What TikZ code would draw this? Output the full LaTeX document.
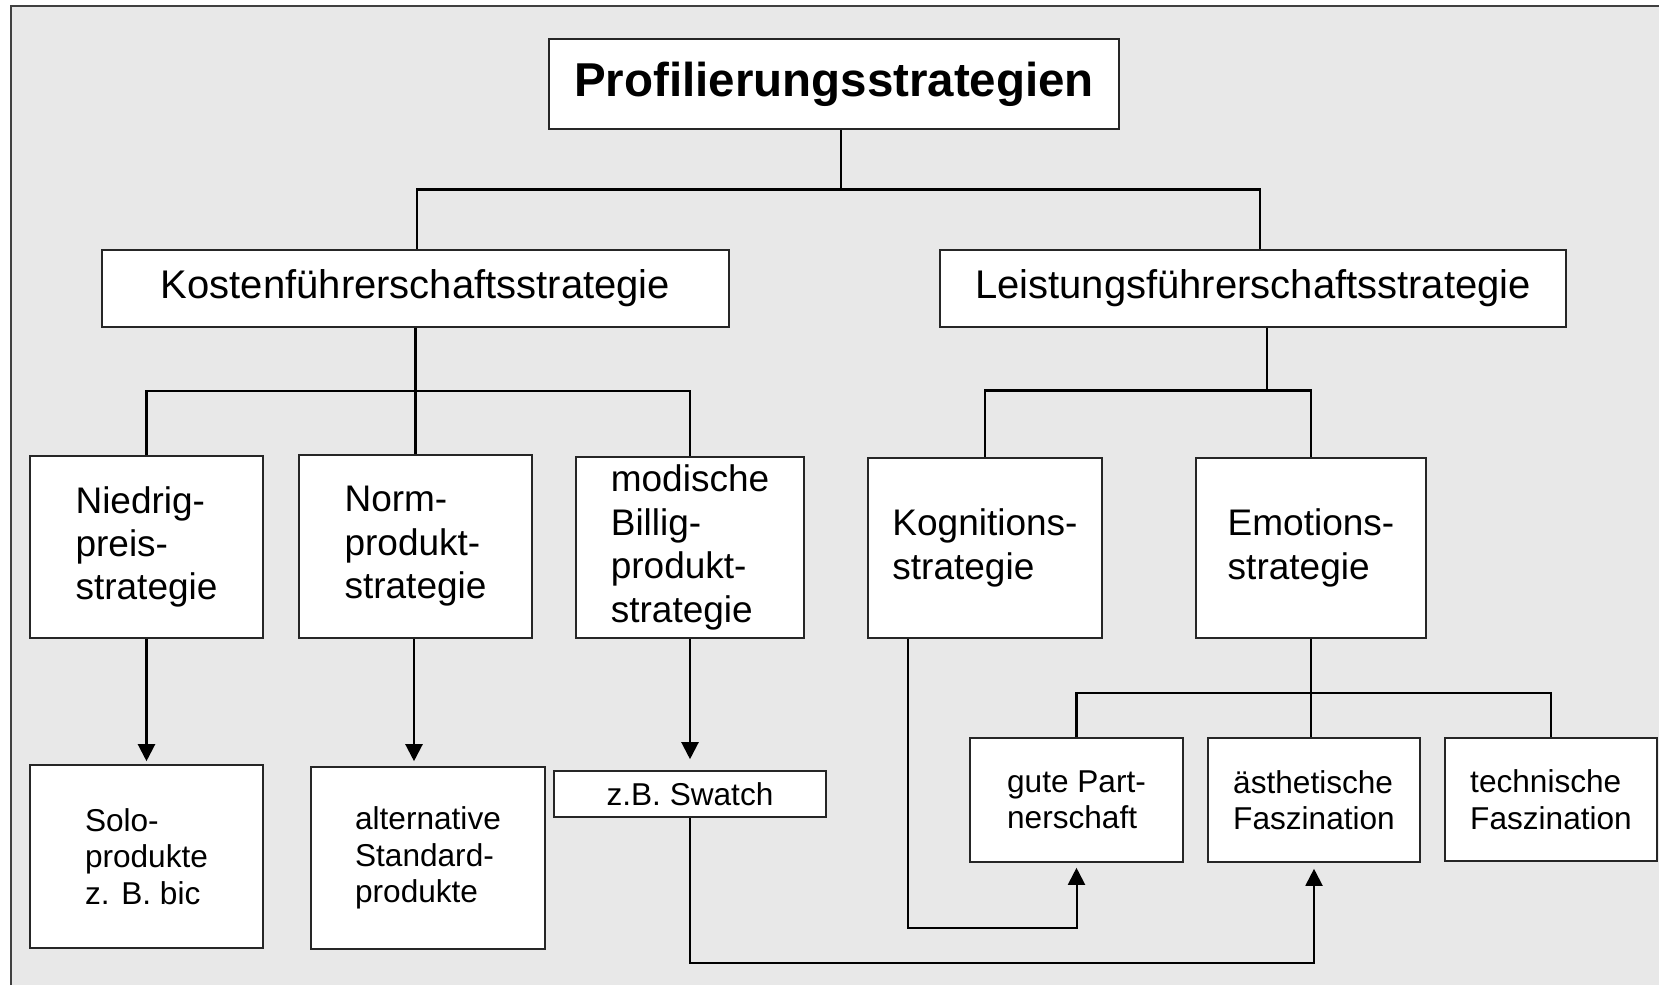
\documentclass[tikz,border=0pt]{standalone}
\usepackage{fontspec}
\setmainfont{Liberation Sans}
\usepackage{tikz}
\usetikzlibrary{arrows.meta}
\usetikzlibrary{calc}
\definecolor{panelgray}{RGB}{232,232,232}

\begin{document}
\begin{tikzpicture}[x=1pt,y=-1pt]

\tikzset{strategy box/.style 2 args={draw=black!85, line width=1.6pt, fill=white,
    inner sep=0pt, minimum width=#1, minimum height=#2, align=left},
  title font/.style={font=\fontsize{47.5}{55}\selectfont\bfseries},
  main font/.style={font=\fontsize{40}{46}\selectfont},
  sub font/.style={font=\fontsize{37}{43.4}\selectfont},
  leaf font/.style={font=\fontsize{31.6}{36.5}\selectfont},
  tree line/.style={line width=2.8pt},
  link arrow/.style={line width=2.2pt, -{Triangle[width=17pt,length=17pt]}}
}

\useasboundingbox (0,0) rectangle (1659,985);
\fill[panelgray] (11,6) rectangle (1659,985);
\draw[black!75, line width=2pt] (11,985) -- (11,6) -- (1659,6);

\node[strategy box={570pt}{90pt}, title font] (profil) at (834,84) {Profilierungsstrategien};
\node[strategy box={627pt}{77pt}, main font] (kosten) at (415.5,288.5) {Kostenführerschaftsstrategie};
\node[strategy box={626pt}{77pt}, main font] (leistung) at (1253,288.5) {Leistungsführerschaftsstrategie};

\node[strategy box={233pt}{182pt}, sub font] (niedrig) at (146.5,547) {Niedrig-\\preis-\\strategie};
\node[strategy box={233pt}{183pt}, sub font] (norm) at (415.5,546.5) {Norm-\\produkt-\\strategie};
\node[strategy box={228pt}{181pt}, sub font] (modisch) at (690,547.5) {modische\\Billig-\\produkt-\\strategie};
\node[strategy box={234pt}{180pt}, sub font] (kognition) at (985,548) {Kognitions-\\strategie};
\node[strategy box={230pt}{180pt}, sub font] (emotion) at (1311,548) {Emotions-\\strategie};

\node[strategy box={233pt}{183pt}, leaf font] (solo) at (146.5,856.5) {Solo-\\produkte\\z. B. bic};
\node[strategy box={234pt}{182pt}, leaf font] (standard) at (428,858) {alternative\\Standard-\\produkte};
\node[strategy box={272pt}{46pt}, leaf font] (swatch) at (690,794) {z.B. Swatch};
\node[strategy box={213pt}{124pt}, leaf font] (partner) at (1076.5,800) {gute Part-\\nerschaft};
\node[strategy box={212pt}{124pt}, leaf font] (aesthetik) at (1314,800) {ästhetische\\Faszination};
\node[strategy box={212pt}{123pt}, leaf font] (technik) at (1551,799.5) {technische\\Faszination};

\draw[tree line] ([xshift=7pt]profil.south) -- ++(0,60) coordinate (p1);
\draw[tree line] ([xshift=1.5pt]kosten.north) |- (p1) -| ([xshift=7pt]leistung.north);

\draw[tree line] (kosten.south) -- (norm.north);
\coordinate (k1) at ($(kosten.south)!0.5!(norm.north)$);
\draw[tree line] (niedrig.north) |- (k1) -| (modisch.north);

\draw[tree line] ([xshift=14pt]leistung.south) -- ++(0,63) coordinate (l1);
\draw[tree line] (kognition.north) |- (l1) -| (emotion.north);

\draw[tree line] (emotion.south) -- (emotion.south |- aesthetik.north);
\coordinate (e1) at ($(emotion.south)!0.55!(emotion.south |- aesthetik.north)$);
\draw[tree line] (partner.north) |- (e1) -| (technik.north);

\draw[link arrow, shorten >=3pt] (niedrig) -- (solo);
\draw[link arrow, shorten >=5pt] ([xshift=-1.5pt]norm.south) -- ([xshift=-1.5pt]norm.south |- standard.north);
\draw[link arrow, shorten >=11pt] (modisch) -- (swatch);
\draw[link arrow, line width=2pt, shorten >=5pt] ([xshift=-77pt]kognition.south) -- ++(0,289) -| (partner.south);
\draw[link arrow, line width=2pt, shorten >=6pt] (swatch.south) -- ++(0,145) -| (aesthetik.south);

\end{tikzpicture}
\end{document}
